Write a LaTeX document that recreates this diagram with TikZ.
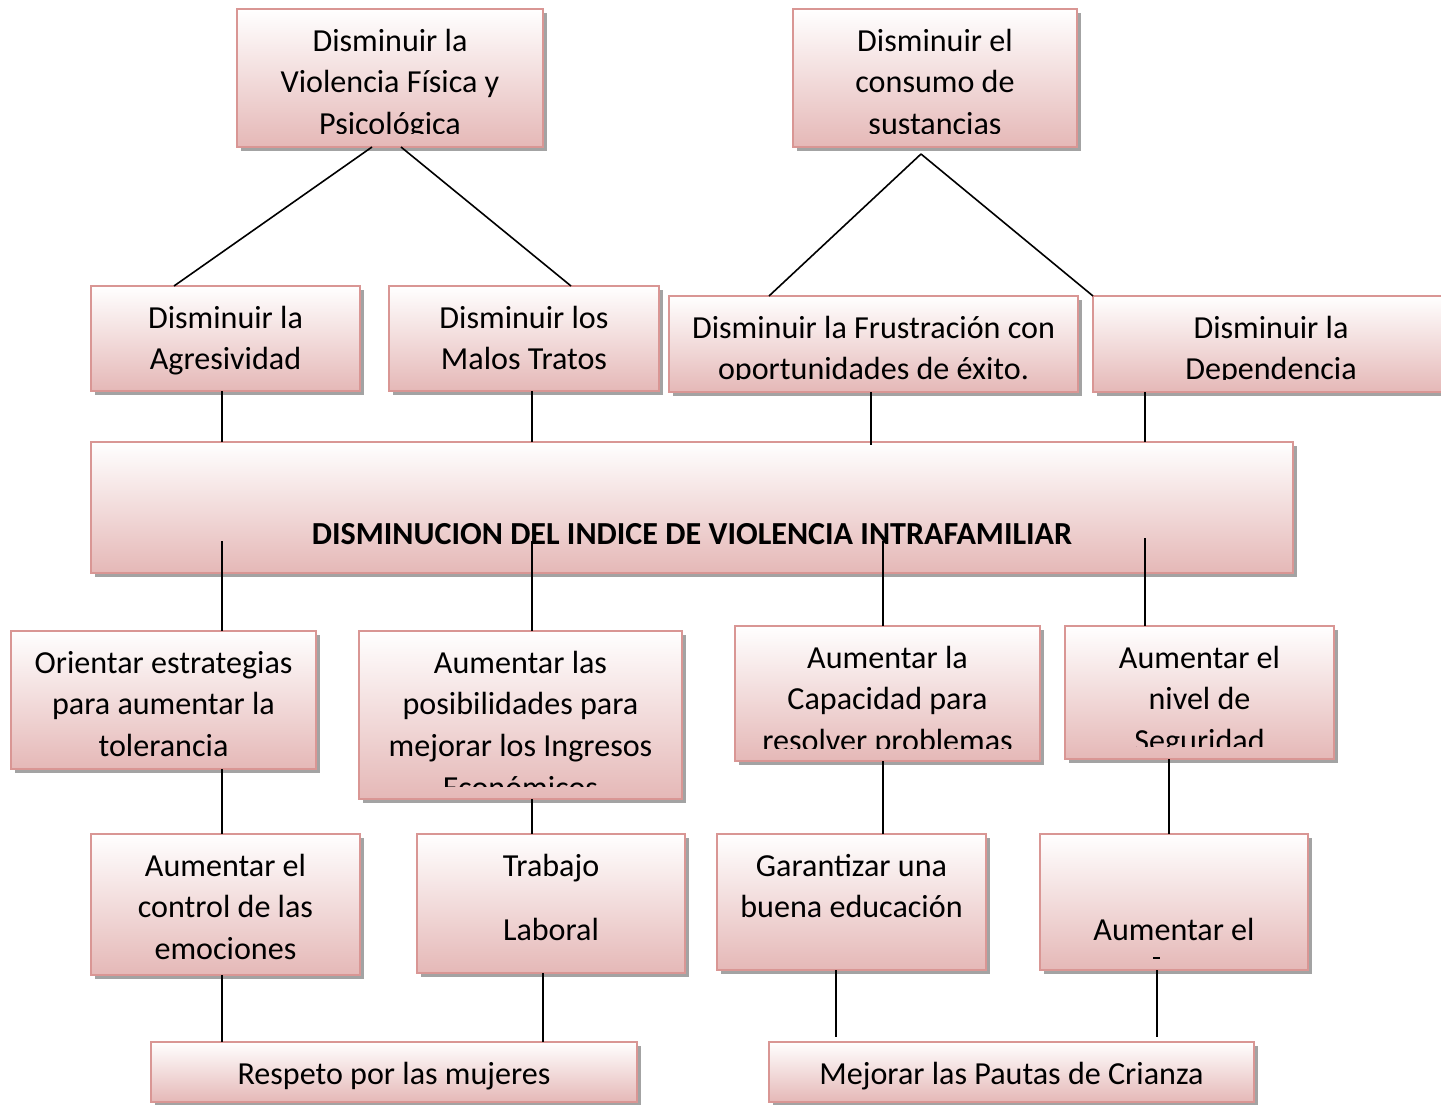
\documentclass[tikz,border=0pt]{standalone}
\usepackage{fontspec}
\setmainfont{Carlito}
\usetikzlibrary{shadows,calc}
\definecolor{boxpink}{RGB}{229,184,183}
\definecolor{boxborder}{RGB}{217,150,148}
\tikzset{
  box/.style={draw=boxborder, line width=1.6pt, top color=white, bottom color=boxpink,
    inner sep=0pt, outer sep=0pt,
    drop shadow={shadow xshift=4pt, shadow yshift=-4pt, fill=black!65, opacity=0.55}},
  txt/.style={font=\fontsize{32.1}{41.6}\selectfont, align=center, anchor=north, inner sep=0pt},
  link/.style={line width=1.6pt, black}
}
% #1 name, #2 x1, #3 y1, #4 x2, #5 y2, #6 first baseline, #7 text
\newcommand\mkbox[7]{%
  \node[box, minimum width={#4-#2}, minimum height={#5-#3}] (#1) at ({(#2+#4)/2},{(#3+#5)/2}) {};
  \begin{scope}
    \clip (#2+4,#3+4) rectangle (#4-4,#5-13);
    \node[txt] (#1t) at ({(#2+#4)/2},{#6-28}) {\rule{0pt}{28pt}#7};
  \end{scope}
}
\begin{document}
\begin{tikzpicture}[x=1pt,y=-1pt]
\useasboundingbox (0,0) rectangle (1441,1105);
\fill[white] (0,0) rectangle (1441,1105);
\clip (0,0) rectangle (1441,1105);

\mkbox{b1}{237}{9}{543}{147}{51}{Disminuir la\\Violencia Física y\\Psicológica}
\mkbox{b2}{793}{9}{1077}{147}{51}{Disminuir el\\consumo de\\sustancias}
\mkbox{b3}{91}{286}{360}{391}{328}{Disminuir la\\Agresividad}
\mkbox{b4}{389}{286}{659}{391}{328}{Disminuir los\\Malos Tratos}
\mkbox{b5}{669}{296}{1078}{392}{338}{Disminuir la Frustración con\\oportunidades de éxito.}
\mkbox{b6}{1093}{296}{1449}{392}{338}{Disminuir la\\Dependencia}
\mkbox{c}{91}{442}{1293}{573}{544}{\textbf{DISMINUCION DEL INDICE DE VIOLENCIA INTRAFAMILIAR}}
\mkbox{b8}{11}{631}{316}{769}{673}{Orientar estrategias\\para aumentar la\\tolerancia}
\mkbox{b9}{359}{631}{682}{799}{673}{Aumentar las\\posibilidades para\\mejorar los Ingresos\\Económicos}
\mkbox{b10}{735}{626}{1040}{761}{668}{Aumentar la\\Capacidad para\\resolver problemas}
\mkbox{b11}{1065}{626}{1334}{759}{668}{Aumentar el\\nivel de\\Seguridad}
\mkbox{b12}{91}{834}{360}{975}{876}{Aumentar el\\control de las\\emociones}
\mkbox{b13}{417}{834}{685}{973}{876}{Trabajo\\[22.4pt]Laboral}
\mkbox{b14}{717}{834}{986}{970}{876}{Garantizar una\\buena educación}
\mkbox{b15}{1040}{834}{1308}{970}{940}{Aumentar el}
\draw[line width=1.2pt] (1153,958) -- (1160,958);
\mkbox{b16}{151}{1042}{637}{1102}{1084}{Respeto por las mujeres}
\mkbox{b17}{769}{1042}{1254}{1102}{1084}{Mejorar las Pautas de Crianza}

% x positions
\coordinate (x174) at (174,0);
\coordinate (x372) at (372,0);
\coordinate (x401) at (401,0);
\coordinate (x571) at (571,0);
\coordinate (x769) at (769,0);
\coordinate (x1093) at (1093,0);
\coordinate (x222) at (222,0);
\coordinate (x532) at (532,0);
\coordinate (x543) at (543,0);
\coordinate (x871) at (871,0);
\coordinate (x883) at (883,0);
\coordinate (x836) at (836,0);
\coordinate (x1145) at (1145,0);
\coordinate (x1169) at (1169,0);
\coordinate (x1157) at (1157,0);
\coordinate (apex) at (921,154);
\coordinate (c1) at (222,541);
\coordinate (c2) at (532,541);
\coordinate (c3) at (883,541);
\coordinate (c4) at (1145,538);

% top tier
\draw[link] (b1.south -| x372) -- (b3.north -| x174);
\draw[link] (b1.south -| x401) -- (b4.north -| x571);
\draw[link] (apex) -- (b5.north -| x769);
\draw[link] (apex) -- (b6.north -| x1093);
% into central box
\draw[link] (b3.south -| x222) -- (c.north -| x222);
\draw[link] (b4.south -| x532) -- (c.north -| x532);
\draw[link] (b5.south -| x871) -- ($(c.north -| x871)+(0,3)$);
\draw[link] (b6.south -| x1145) -- (c.north -| x1145);
% out of central box
\draw[link] (c1) -- (b8.north -| c1);
\draw[link] (c2) -- (b9.north -| c2);
\draw[link] (c3) -- (b10.north -| c3);
\draw[link] (c4) -- (b11.north -| c4);
% third to fourth tier
\draw[link] (b8.south -| x222) -- (b12.north -| x222);
\draw[link] (b9.south -| x532) -- (b13.north -| x532);
\draw[link] (b10.south -| x883) -- (b14.north -| x883);
\draw[link] (b11.south -| x1169) -- (b15.north -| x1169);
% to bottom
\draw[link] (b12.south -| x222) -- (b16.north -| x222);
\draw[link] (b13.south -| x543) -- (b16.north -| x543);
\draw[link, shorten >=5pt] (b14.south -| x836) -- (b17.north -| x836);
\draw[link, shorten >=5pt] (b15.south -| x1157) -- (b17.north -| x1157);
\end{tikzpicture}
\end{document}
